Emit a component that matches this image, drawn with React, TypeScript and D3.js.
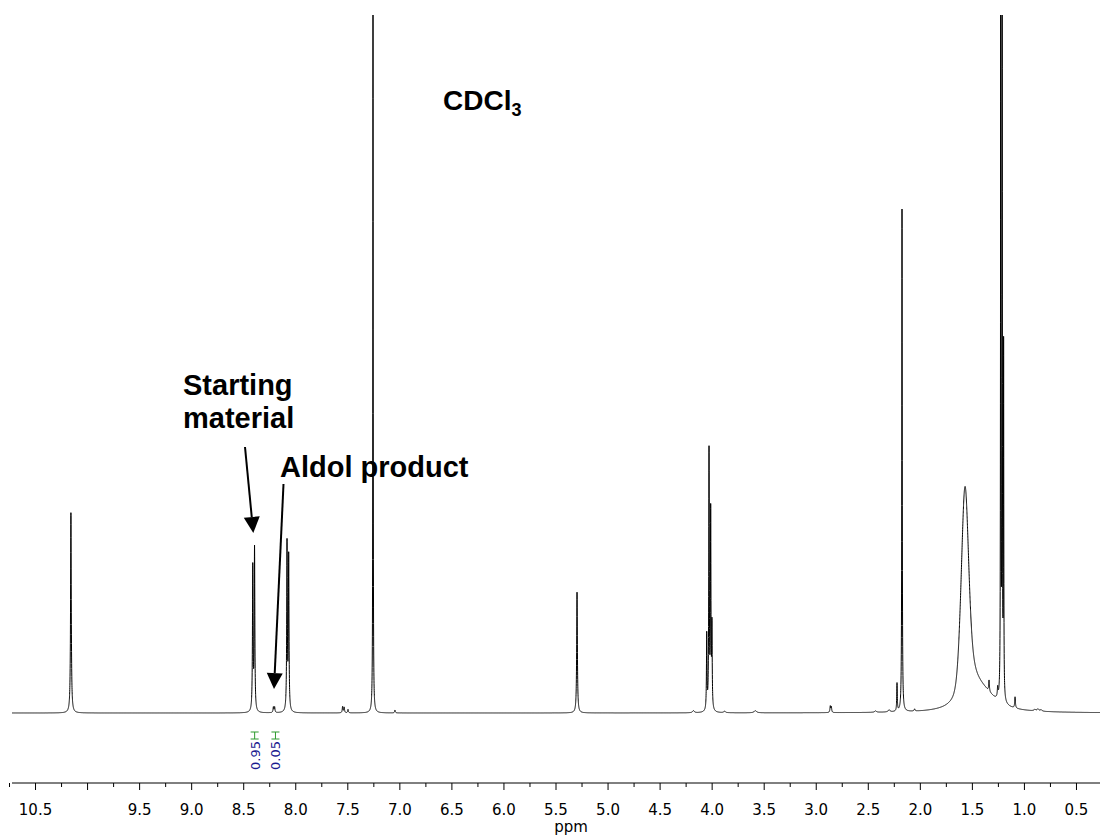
import React from "react";
import * as d3 from "d3";

// ---- Data ----
// Resonance lines: chemical shift (ppm), height (% of plot height), FWHM (ppm), Lorentzian fraction
const peakPpm = [
  10.16,
  8.413, 8.396,
  8.215, 8.203,
  8.084, 8.068,
  7.55, 7.535, 7.498,
  7.258,
  7.047,
  5.298,
  4.18,
  4.052, 4.03, 4.014, 4.002,
  3.88,
  3.585,
  2.865, 2.855,
  2.43, 2.3,
  2.224, 2.176,
  2.055,
  1.571, 1.49, 1.40,
  1.34, 1.257,
  1.228, 1.214, 1.2,
  1.09,
  0.9, 0.87, 0.84,
];
const peakHeight = [
  28.7,
  20.6, 23.2,
  0.8, 0.8,
  24.0, 22.0,
  0.9, 0.8, 0.5,
  110,
  0.4,
  17.3,
  0.3,
  10.8, 37.0, 28.0, 11.6,
  0.2,
  0.3,
  0.9, 0.8,
  0.2, 0.3,
  4.0, 72.0,
  0.3,
  30.2, 2.5, 2.5,
  1.6, 1.4,
  105, 110, 50,
  1.6,
  0.2, 0.3, 0.2,
];
const peakWidth = [
  0.008,
  0.007, 0.007,
  0.008, 0.008,
  0.007, 0.007,
  0.008, 0.008, 0.008,
  0.004,
  0.008,
  0.008,
  0.02,
  0.006, 0.006, 0.006, 0.006,
  0.02,
  0.03,
  0.008, 0.008,
  0.02, 0.02,
  0.006, 0.005,
  0.01,
  0.086, 0.15, 0.3,
  0.008, 0.008,
  0.004, 0.004, 0.004,
  0.008,
  0.02, 0.02, 0.02,
];
const peakLorentz = [
  1,
  1, 1,
  1, 1,
  1, 1,
  1, 1, 1,
  1,
  1,
  1,
  1,
  1, 1, 1, 1,
  1,
  1,
  1, 1,
  1, 1,
  1, 1,
  1,
  0.4, 1, 1,
  1, 1,
  1, 1, 1,
  1,
  1, 1, 1,
];

const majorTicks = [10.5, 10.0, 9.5, 9.0, 8.5, 8.0, 7.5, 7.0, 6.5, 6.0, 5.5, 5.0, 4.5, 4.0, 3.5, 3.0, 2.5, 2.0, 1.5, 1.0, 0.5];
const minorTicks = [10.75, 10.25, 9.75, 9.25, 8.75, 8.25, 7.75, 7.25, 6.75, 6.25, 5.75, 5.25, 4.75, 4.25, 3.75, 3.25, 2.75, 2.25, 1.75, 1.25, 0.75, 0.25];
const tickLabels = ["10.5", "", "9.5", "9.0", "8.5", "8.0", "7.5", "7.0", "6.5", "6.0", "5.5", "5.0", "4.5", "4.0", "3.5", "3.0", "2.5", "2.0", "1.5", "1.0", "0.5"];

const integralPpm = [8.395, 8.195];
const integralValues = ["0.95", "0.05"];

const ppmDomain = [10.726, 0.274];

// ---- Layout ----
const W = 1100;
const H = 835;
const X0 = 12;
const X1 = 1100;
const BASE_Y = 713;
const TOP_Y = 15;
const AXIS_Y = 783;

function buildSpectrum(): [number, number][] {
  const pts: [number, number][] = [];
  const step = 0.0005;
  const n = Math.round((ppmDomain[0] - ppmDomain[1]) / step);
  for (let i = 0; i <= n; i++) {
    const p = ppmDomain[0] - i * step;
    let v = 0;
    for (let k = 0; k < peakPpm.length; k++) {
      const hw = peakWidth[k] / 2;
      const d = (p - peakPpm[k]) / hw;
      const L = 1 / (1 + d * d);
      const G = Math.exp(-Math.LN2 * d * d);
      const eta = peakLorentz[k];
      v += peakHeight[k] * (eta * L + (1 - eta) * G);
    }
    pts.push([p, v]);
  }
  return pts;
}

export default function App() {
  const x = d3.scaleLinear().domain(ppmDomain).range([X0, X1]);
  const y = d3.scaleLinear().domain([0, 100]).range([BASE_Y, TOP_Y]);
  const data = React.useMemo(buildSpectrum, []);
  const line = d3
    .line<[number, number]>()
    .x((d) => x(d[0]))
    .y((d) => y(d[1]));
  const path = line(data) || "";

  const axisFont = "'DejaVu Sans', Verdana, sans-serif";
  const labelFont = "'Liberation Sans', Arial, sans-serif";

  const arrow = (x1: number, y1: number, x2: number, y2: number, key: string) => {
    const ang = Math.atan2(y2 - y1, x2 - x1);
    const len = 16;
    const half = 8;
    const bx = x2 - len * Math.cos(ang);
    const by = y2 - len * Math.sin(ang);
    const px = -Math.sin(ang);
    const py = Math.cos(ang);
    return (
      <g key={key}>
        <line x1={x1} y1={y1} x2={bx} y2={by} stroke="#000" strokeWidth={2} />
        <polygon
          points={`${x2},${y2} ${bx + px * half},${by + py * half} ${bx - px * half},${by - py * half}`}
          fill="#000"
        />
      </g>
    );
  };

  return (
    <svg
      width={W}
      height={H}
      style={{ position: "absolute", left: 0, top: 0, background: "#fff" }}
    >
      <defs>
        <clipPath id="plotClip">
          <rect x={X0} y={TOP_Y} width={X1 - X0} height={AXIS_Y - TOP_Y} />
        </clipPath>
      </defs>
      <rect x={0} y={0} width={W} height={H} fill="#fff" />
      <path d={path} fill="none" stroke="#000" strokeWidth={1} clipPath="url(#plotClip)" strokeLinejoin="round" />

      {/* axis */}
      <line x1={X0} x2={X1} y1={AXIS_Y} y2={AXIS_Y} stroke="#000" strokeWidth={1} />
      {majorTicks.map((t, i) => (
        <g key={"M" + t}>
          <line x1={x(t)} x2={x(t)} y1={AXIS_Y} y2={AXIS_Y + 7} stroke="#000" strokeWidth={1} />
          {tickLabels[i] && (
            <text
              x={x(t)}
              y={AXIS_Y + 32}
              textAnchor="middle"
              fontFamily={axisFont}
              fontSize={15}
              fill="#000"
            >
              {tickLabels[i]}
            </text>
          )}
        </g>
      ))}
      {minorTicks.map((t) => (
        <line key={"m" + t} x1={x(t)} x2={x(t)} y1={AXIS_Y} y2={AXIS_Y + 4} stroke="#000" strokeWidth={1} />
      ))}
      <text x={571} y={832} textAnchor="middle" fontFamily={axisFont} fontSize={15} fill="#000">
        ppm
      </text>

      {/* integrals */}
      {integralPpm.map((p, i) => {
        const cx = x(p);
        return (
          <g key={"int" + i}>
            <g stroke="#2e9a2e" strokeWidth={1}>
              <line x1={cx} x2={cx} y1={732} y2={739} />
              <line x1={cx - 4} x2={cx + 4} y1={732} y2={732} />
              <line x1={cx - 4} x2={cx + 4} y1={739} y2={739} />
            </g>
            <text
              transform={`translate(${cx + 5},741) rotate(-90)`}
              textAnchor="end"
              fontFamily={axisFont}
              fontSize={13}
              fill="#1a1a8f"
            >
              {integralValues[i]}
            </text>
          </g>
        );
      })}

      {/* annotations */}
      <text x={443} y={110} fontFamily={labelFont} fontWeight="bold" fontSize={28} fill="#000">
        CDCl
        <tspan fontSize={18} dy={6}>3</tspan>
      </text>
      <text x={183} y={395} fontFamily={labelFont} fontWeight="bold" fontSize={29} fill="#000">
        Starting
      </text>
      <text x={183} y={428} fontFamily={labelFont} fontWeight="bold" fontSize={29} fill="#000">
        material
      </text>
      <text x={280} y={477} fontFamily={labelFont} fontWeight="bold" fontSize={29} fill="#000">
        Aldol product
      </text>
      {arrow(245, 447, 253.3, 533, "a1")}
      {arrow(283.5, 484, 274, 689, "a2")}
    </svg>
  );
}
